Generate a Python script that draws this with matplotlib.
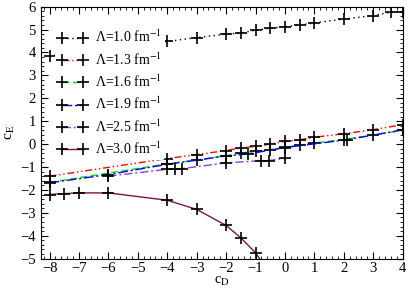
import numpy as np
import matplotlib
matplotlib.use("Agg")
import matplotlib.pyplot as plt
from matplotlib.ticker import MultipleLocator

plt.rcParams['font.family'] = ['Liberation Serif', 'DejaVu Serif']
plt.rcParams['mathtext.fontset'] = 'stix'

# data
cd_10 = [-8, -4, -3, -2, -1.5, -1, -0.5, 0, 0.5, 1, 2, 3, 3.6, 4]
ce_10 = [3.85, 4.48, 4.65, 4.80, 4.85, 4.97, 5.06, 5.12, 5.20, 5.29, 5.46, 5.61, 5.76, 5.78]

cd_13 = [-8, -4, -3, -2, -1.5, -1, -0.5, 0, 0.5, 1, 2, 3, 4]
ce_13 = [-1.40, -0.63, -0.46, -0.28, -0.17, -0.10, 0.0, 0.12, 0.19, 0.30, 0.45, 0.63, 0.85]

cd_16 = [-8, -4, -3, -2, -1.5, -1, -0.5, 0, 0.5, 1, 2, 3, 4]
ce_16 = [-1.67, -0.86, -0.70, -0.50, -0.39, -0.31, -0.24, -0.14, -0.05, 0.05, 0.20, 0.40, 0.60]

cd_19 = [-8, -6, -4, -2, -1.25, 0, 2.1, 4]
ce_19 = [-1.69, -1.33, -0.88, -0.52, -0.43, -0.15, 0.19, 0.62]

cd_25 = [-6, -4, -3.75, -3.5, -2, -0.8, -0.55, 0]
ce_25 = [-1.40, -1.10, -1.10, -1.07, -0.82, -0.72, -0.72, -0.62]

cd_30 = [-8, -7.5, -7, -6, -4, -3, -2, -1.5, -1, -0.5]
ce_30 = [-2.20, -2.16, -2.13, -2.13, -2.45, -2.85, -3.55, -4.09, -4.74, -5.70]

labels = ['Λ=1.0 fm$^{-1}$', 'Λ=1.3 fm$^{-1}$', 'Λ=1.6 fm$^{-1}$',
          'Λ=1.9 fm$^{-1}$', 'Λ=2.5 fm$^{-1}$', 'Λ=3.0 fm$^{-1}$']

fig = plt.figure(figsize=(4.09, 2.89), dpi=100)
ax = fig.add_axes([0.0995, 0.105, 0.885, 0.872])

mk = dict(marker='+', markersize=8, markeredgewidth=1.2,
          markeredgecolor='black', lw=1.0)

ax.plot(cd_10, ce_10, color='black', ls=(0, (1, 2.5)), label=labels[0], **mk)
ax.plot(cd_13, ce_13, color='red', ls=(0, (5, 2, 1, 2, 1, 2)), label=labels[1], **mk)
ax.plot(cd_16, ce_16, color='#00e000', ls=(0, (5, 2.5)), label=labels[2], **mk)
ax.plot(cd_19, ce_19, color='blue', ls=(0, (7, 2, 1.5, 2)), label=labels[3], **mk)
ax.plot(cd_25, ce_25, color='#9040d0', ls=(0, (6, 2, 1.5, 2)), label=labels[4], **mk)
ax.plot(cd_30, ce_30, color='#7a1450', ls='-', label=labels[5], **mk)

ax.set_xlim(-8.3, 4)
ax.set_ylim(-5, 6)
ax.xaxis.set_major_locator(MultipleLocator(1))
ax.xaxis.set_minor_locator(MultipleLocator(0.2))
ax.yaxis.set_major_locator(MultipleLocator(1))
ax.yaxis.set_minor_locator(MultipleLocator(0.2))
ax.tick_params(which='both', direction='in', top=True, right=True, labelsize=10.5)
ax.tick_params(which='major', length=5, width=0.8)
ax.tick_params(which='minor', length=2.5, width=0.6)
ax.tick_params(axis='x', pad=2.5)

ax.set_xlabel('c$_{\\mathrm{D}}$', fontsize=10.5, labelpad=0)
ax.set_ylabel('c$_{\\mathrm{E}}$', fontsize=11, labelpad=2)

leg = ax.legend(loc='upper left', bbox_to_anchor=(0.02, 0.95), numpoints=2,
                handlelength=2.1, handletextpad=0.6, labelspacing=0.42,
                fontsize=10, frameon=True, borderpad=0.2)
leg.get_frame().set_facecolor('white')
leg.get_frame().set_edgecolor('none')
leg.get_frame().set_alpha(1.0)

fig.savefig('out.png', dpi=100)
